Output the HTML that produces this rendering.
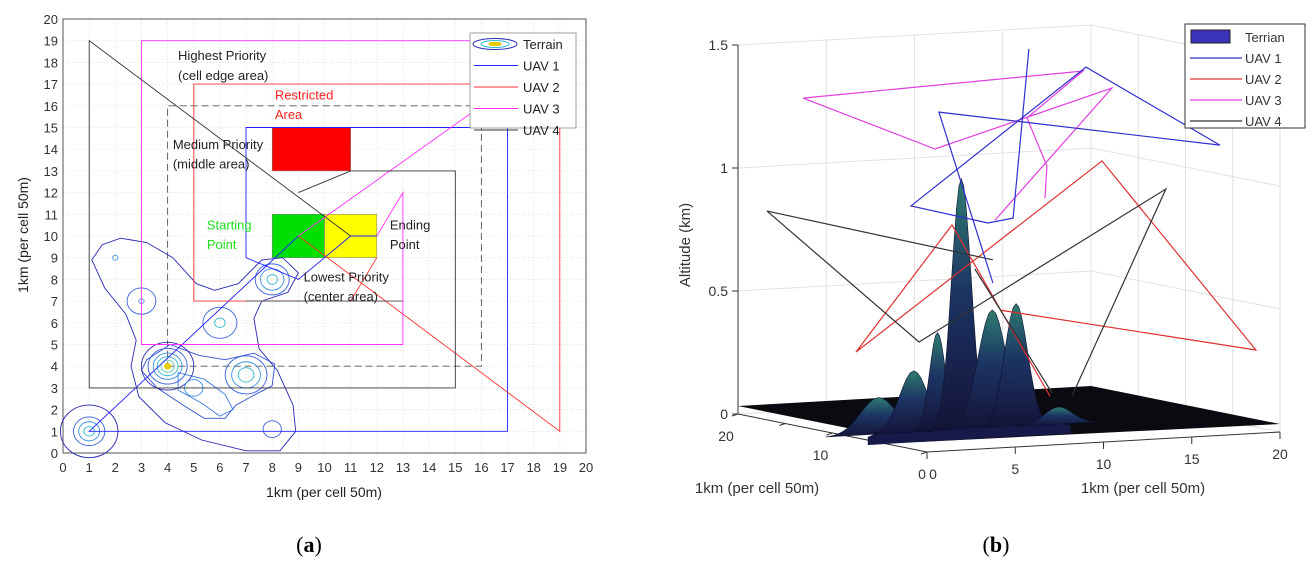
<!DOCTYPE html>
<html><head><meta charset="utf-8"><style>
body{margin:0;background:#fff;width:1313px;height:566px;overflow:hidden;font-family:"Liberation Sans",sans-serif}
svg{position:absolute;left:0;top:0}
</style></head><body>
<svg id="s" width="1313" height="566" font-family="Liberation Sans, sans-serif"></svg>
<script>
// ---------- data (left panel, map coords in km cells) ----------
const xTicks=[0,1,2,3,4,5,6,7,8,9,10,11,12,13,14,15,16,17,18,19,20];
const yTicks=[0,1,2,3,4,5,6,7,8,9,10,11,12,13,14,15,16,17,18,19,20];
const uav1Path=[[9,10],[1,1],[17,1],[17,15],[7,15],[7,9],[9,8],[11,10],[12,10]];
const uav2Path=[[12,9],[11,7],[5,7],[5,17],[19,17],[19,1],[9,10]];
const uav3Path=[[12,10],[13,12],[13,5],[3,5],[3,19],[16,19],[16,16],[9,10]];
const uav4Path=[[11,10],[1,19],[1,3],[15,3],[15,13],[11,13],[9,12]];
const uav4Inner=[[7,7],[13,7]];
const dashedRect=[[4,4],[16,4],[16,16],[4,16],[4,4]];
const contourOuter=[[1.1,8.9],[1.5,9.6],[2.2,9.9],[3.2,9.7],[4.2,9.0],[5.1,7.8],[5.8,7.5],[6.7,7.8],[7.6,8.9],[8.4,9.0],[9.0,8.3],[8.6,7.4],[7.6,7.0],[7.3,6.2],[7.5,4.8],[8.2,3.8],[8.8,2.2],[8.9,1.0],[8.3,0.1],[7,0.1],[5.3,0.6],[3.9,1.4],[2.9,2.6],[2.6,4.0],[2.8,5.2],[2.4,6.4],[1.6,7.6],[1.1,8.9]];
const contourMid=[[3.2,4.3],[4.1,5.0],[5.2,4.5],[6.2,4.3],[7.3,4.6],[8.1,4.1],[8.0,3.1],[7.2,2.6],[6.6,2.2],[6.2,1.6],[5.4,1.6],[4.6,2.2],[3.6,3.0],[3.0,3.8],[3.2,4.3]];
const contourInner=[[4.4,3.7],[5.4,3.4],[6.2,2.7],[6.5,2.0],[6,1.7],[5.3,2.3],[4.4,2.9],[4.4,3.7]];
const ringCx=[1,1,1,1,4,4,4,4,4,4,7,7,7,8,8,8,6,6,3,3,2,5,8];
const ringCy=[1,1,1,1,4,4,4,4,4,4,3.6,3.6,3.6,8,8,8,6,6,7,7,9,3,1.1];
const ringR=[1.1,0.6,0.4,0.2,1.0,0.75,0.55,0.4,0.25,0.12,0.8,0.55,0.3,0.65,0.45,0.2,0.65,0.2,0.55,0.1,0.1,0.35,0.35];
// ---------- data (right panel, 3D: x, y, altitude km) ----------
const zTicks=[0,0.5,1,1.5];
const floorTicks=[0,5,10,15,20];
const uav1_3d=[[9.09,10,0.573],[6.03,10,1.28],[21.95,10,1.081],[14.36,10,1.429],[4.45,10,0.905],[8.81,10,0.818],[10.23,10,0.832],[11.13,10,1.516]];
const uav2_3d=[[12.32,10,0.1],[6.77,10,0.818],[1.33,10,0.324],[15.27,10,1.044],[23.99,10,0.24],[9.49,10,0.461]];
const uav3_3d=[[9.21,10,0.828],[15.83,10,1.338],[5.81,10,1.131],[-1.67,10,1.368],[14.19,10,1.414],[11.02,10,1.236],[12.15,10,1.036],[12.04,10,0.906]];
const uav4_3d=[[9.09,10,0.667],[-3.71,10,0.917],[4.9,10,0.35],[18.89,10,0.915],[13.57,10,0.095]];
const uav4b_3d=[[8.07,10,0.634],[12.44,10,0.112]];
const peakX=[2.6,4.6,5.95,7.3,9.05,10.4,12.8];
const peakH=[0.15,0.25,0.4,1.02,0.48,0.5,0.07];
const peakW=[1.0,0.8,0.45,0.55,0.8,0.65,0.8];

const S=document.getElementById('s');const NS='http://www.w3.org/2000/svg';
function mk(t,a,p){const e=document.createElementNS(NS,t);for(const k in a)e.setAttribute(k,a[k]);(p||S).appendChild(e);return e;}
const X=v=>63+v*26.15, Y=v=>453-v*21.7;
const gL=mk('g',{});
xTicks.forEach(v=>{const l=mk('line',{x1:X(v),x2:X(v),y1:Y(0),y2:Y(20),stroke:'#d8d8d8','stroke-width':0.7,'stroke-dasharray':'1 2'},gL);
 const t=mk('text',{x:X(v),y:Y(0)+19,'text-anchor':'middle','font-size':13,fill:'#333'},gL);t.textContent=v;});
yTicks.forEach(v=>{const l=mk('line',{x1:X(0),x2:X(20),y1:Y(v),y2:Y(v),stroke:'#d8d8d8','stroke-width':0.7,'stroke-dasharray':'1 2'},gL);
 const t=mk('text',{x:X(0)-5,y:Y(v)+5,'text-anchor':'end','font-size':13,fill:'#333'},gL);t.textContent=v;});
const box=mk('rect',{x:X(0),y:Y(20),width:X(20)-X(0),height:Y(0)-Y(20),fill:'none',stroke:'#555','stroke-width':1},gL);
function rect(x0,y0,x1,y1,f,n){const r=mk('rect',{x:X(x0),y:Y(y1),width:X(x1)-X(x0),height:Y(y0)-Y(y1),fill:f,stroke:'#777','stroke-width':0.5},gL);}
rect(8,13,11,15,'#ff0000','restricted-area');rect(8,9,10,11,'#00e000','starting-point-area');rect(10,9,12,11,'#ffff00','ending-point-area');
function poly(pts,c,n,extra,closed){const d=pts.map((p,i)=>(i?'L':'M')+X(p[0]).toFixed(1)+' '+Y(p[1]).toFixed(1)).join(' ')+(closed?'Z':'');const e=mk('path',Object.assign({d:d,fill:'none',stroke:c,'stroke-width':0.9},extra||{}),gL);}
poly(dashedRect,'#555','medium-priority-boundary',{'stroke-dasharray':'7 4'});
poly(contourOuter,'#2828b4','terrain-contour-outer',{},true);
poly(contourMid,'#3050d0','terrain-contour-mid',{},true);
poly(contourInner,'#3a78e0','terrain-contour-inner',{},true);
const rc=['#2828b4','#3a60d8','#3a90e0','#30b8d0','#5cc8a0','#e0c800'];
const ringLvl=[0,1,2,3,0,1,2,3,4,5,1,2,3,1,2,3,1,3,1,2,2,2,1];
ringR.forEach((r,i)=>{const lvl=ringLvl[i];const e=mk('ellipse',{cx:X(ringCx[i]),cy:Y(ringCy[i]),rx:r*26.15,ry:r*21.7*1.1,fill:lvl==5?'#e8d000':'none',stroke:rc[lvl],'stroke-width':0.9},gL);});
poly(uav1Path,'#2020ff','uav1-path');poly(uav2Path,'#ff3030','uav2-path');poly(uav3Path,'#ff30ff','uav3-path');poly(uav4Path,'#333','uav4-path');poly(uav4Inner,'#444','uav4-inner-path');
function txt(x,y,s,c,n,sz,anchor){const t=mk('text',{x:x,y:y,'font-size':sz||13,fill:c,'text-anchor':anchor||'start'},gL);t.textContent=s;return t;}
txt(X(4.4),Y(18.1),'Highest Priority','#222','highest-priority-label');txt(X(4.4),Y(17.2),'(cell edge area)','#222','highest-priority-sub');
txt(X(8.1),Y(16.3),'Restricted','#ff2020','restricted-label');txt(X(8.1),Y(15.4),'Area','#ff2020','restricted-sub');
txt(X(4.2),Y(14.0),'Medium Priority','#222','medium-priority-label');txt(X(4.2),Y(13.1),'(middle area)','#222','medium-priority-sub');
txt(X(5.5),Y(10.3),'Starting','#20e020','starting-label');txt(X(5.5),Y(9.4),'Point','#20e020','starting-sub');
txt(X(12.5),Y(10.3),'Ending','#222','ending-label');txt(X(12.5),Y(9.4),'Point','#222','ending-sub');
txt(X(9.2),Y(7.9),'Lowest Priority','#222','lowest-priority-label');txt(X(9.2),Y(7.0),'(center area)','#222','lowest-priority-sub');
txt(324,497,'1km (per cell 50m)','#222','x-axis-title',14,'middle');
const yt=txt(0,0,'1km (per cell 50m)','#222','y-axis-title',14,'middle');yt.setAttribute('transform','translate(28,235) rotate(-90)');
const lg=mk('g',{});
mk('rect',{x:470,y:33,width:106,height:95,fill:'#fff',stroke:'#888','stroke-width':0.8},lg);
mk('ellipse',{cx:495,cy:44,rx:22,ry:5.5,fill:'none',stroke:'#2828b4'},lg);mk('ellipse',{cx:495,cy:44,rx:14,ry:3.5,fill:'none',stroke:'#30b8d0'},lg);mk('ellipse',{cx:495,cy:44,rx:6,ry:1.6,fill:'#e8d000',stroke:'#e0c000'},lg);
const lgNames=['Terrain','UAV 1','UAV 2','UAV 3','UAV 4'],lgCols=['none','#2020ff','#ff3030','#ff30ff','#333'];
lgNames.forEach((n,i)=>{const y=44+i*21.5;if(i>0){const l=mk('line',{x1:474,x2:518,y1:y,y2:y,stroke:lgCols[i],'stroke-width':1},lg);}const t=mk('text',{x:523,y:y+5,'font-size':13,fill:'#222'},lg);t.textContent=n;});

// ---------- right 3D panel ----------
const P=(x,y,z)=>[927+x*17.65-y*9.45,452-x*1.0-y*1.9-z*246];
const gR=mk('g',{});
function ln(a,b,c,w,n){const e=mk('line',{x1:a[0],y1:a[1],x2:b[0],y2:b[1],stroke:c,'stroke-width':w},gR);}
const zMax=1.5;
zTicks.forEach(z=>{ln(P(0,20,z),P(20,20,z),'#e2e2e2',1,'back-wall-grid');ln(P(20,20,z),P(20,0,z),'#e2e2e2',1,'side-wall-grid');
 const p=P(0,20,z);ln(p,[p[0]-6,p[1]],'#333',1,'z-tick');const t=mk('text',{x:p[0]-10,y:p[1]+5,'text-anchor':'end','font-size':14,fill:'#333'},gR);t.textContent=z;});
floorTicks.forEach(v=>{ln(P(v,20,0),P(v,20,zMax),'#e2e2e2',1,'back-wall-grid');ln(P(20,v,0),P(20,v,zMax),'#e2e2e2',1,'side-wall-grid');});
ln(P(0,20,0),P(0,20,zMax),'#333',1,'z-axis');
ln(P(0,20,0),P(0,0,0),'#333',1,'y-axis');ln(P(0,0,0),P(20,0,0),'#333',1,'x-axis');
floorTicks.forEach(v=>{const a=P(v,0,0);ln(a,[a[0],a[1]+7],'#333',1,'x-tick');const t=mk('text',{x:a[0]+(v?0:6),y:a[1]+27,'text-anchor':'middle','font-size':14,fill:'#333'},gR);t.textContent=v;
 const b=P(0,v,0);ln(b,[b[0]-6,b[1]+2],'#333',1,'y-tick');
 if(v%10==0){const t2=mk('text',{x:b[0]-(v?12:5),y:b[1]+27,'text-anchor':'middle','font-size':14,fill:'#333'},gR);t2.textContent=v;}});
const fl=[P(0,20,0),P(0,1,0),P(20,0,0),P(20,20,0)];
const fs=mk('path',{d:'M'+fl.map(p=>p[0].toFixed(1)+' '+(p[1]-8).toFixed(1)).join('L')+'Z',fill:'#0a0a10',stroke:'none'},gR);
const gd=mk('linearGradient',{id:'pk',x1:0,y1:1,x2:0,y2:0},mk('defs',{},gR));mk('stop',{offset:0,'stop-color':'#141438'},gd);mk('stop',{offset:0.55,'stop-color':'#1c3464'},gd);mk('stop',{offset:1,'stop-color':'#2f7d70'},gd);
// mound under the peaks
(function(){const a=P(2,10,0),b=P(13.5,10,0);const m=mk('path',{d:`M${a[0]} ${a[1]+6} Q${(a[0]+b[0])/2} ${a[1]-40} ${b[0]} ${b[1]+6} L${b[0]} ${b[1]+14} L${a[0]} ${a[1]+14}Z`,fill:'#171a48',stroke:'none'},gR);})();
peakX.forEach((px,i)=>{let d='';for(let k=-3;k<=3.001;k+=0.25){const x=px+k*peakW[i];const z=peakH[i]*Math.exp(-k*k/2);const p=P(x,10,z);d+=(d?'L':'M')+p[0].toFixed(1)+' '+(p[1]+4).toFixed(1);}
 const e=mk('path',{d:d+'Z',fill:'url(#pk)',stroke:'#0c1030','stroke-width':0.6},gR);});
function p3(pts,c,n){const d=pts.map((q,i)=>{const p=P(q[0],q[1],q[2]);return (i?'L':'M')+p[0].toFixed(1)+' '+p[1].toFixed(1);}).join(' ');const e=mk('path',{d:d,fill:'none',stroke:c,'stroke-width':1.2},gR);}
p3(uav2_3d,'#e03030','uav2-3d-path');p3(uav4_3d,'#333','uav4-3d-path');p3(uav4b_3d,'#333','uav4-3d-segment');p3(uav3_3d,'#e040e0','uav3-3d-path');p3(uav1_3d,'#3030d0','uav1-3d-path');
const at=mk('text',{transform:'translate(690,245) rotate(-90)','text-anchor':'middle','font-size':15,fill:'#333'},gR);at.textContent='Altitude (km)';
const a1=mk('text',{x:757,y:493,'text-anchor':'middle','font-size':15,fill:'#333'},gR);a1.textContent='1km (per cell 50m)';
const a2=mk('text',{x:1143,y:493,'text-anchor':'middle','font-size':15,fill:'#333'},gR);a2.textContent='1km (per cell 50m)';
const lg2=mk('g',{});
mk('rect',{x:1185,y:24,width:120,height:104,fill:'#fff',stroke:'#333','stroke-width':1},lg2);
mk('rect',{x:1191,y:30,width:39,height:13,fill:'#3a32b8',stroke:'#222'},lg2);
const lg2N=['Terrian','UAV 1','UAV 2','UAV 3','UAV 4'],lg2C=['none','#3030d0','#e03030','#e040e0','#333'];
lg2N.forEach((n,i)=>{const y=37+i*21;if(i>0){const l=mk('line',{x1:1190,x2:1242,y1:y,y2:y,stroke:lg2C[i],'stroke-width':1.2},lg2);}const t=mk('text',{x:1245,y:y+5,'font-size':13,fill:'#333'},lg2);t.textContent=n;});
[['(a)',309,'caption-a','a'],['(b)',996,'caption-b','b']].forEach(c=>{const t=mk('text',{x:c[1],y:552,'text-anchor':'middle','font-size':22,fill:'#000','font-family':'Liberation Serif, serif'});t.innerHTML='(<tspan font-weight="bold">'+c[3]+'</tspan>)';});
</script>
</body></html>
